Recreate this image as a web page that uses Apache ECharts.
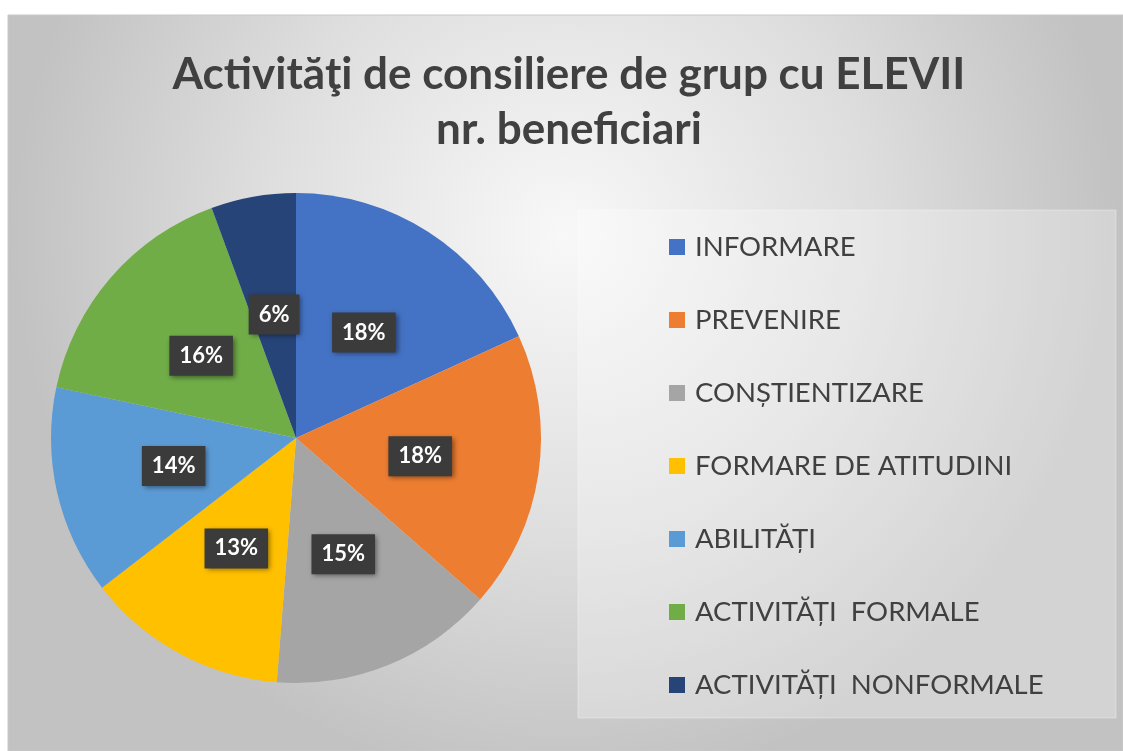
<!DOCTYPE html>
<html>
<head>
<meta charset="utf-8">
<script src="https://cdn.jsdelivr.net/npm/echarts@6/dist/echarts.min.js"></script>
<style>
html,body{margin:0;padding:0;background:#fff;}
#c{width:1123px;height:751px;}
</style>
</head>
<body>
<div id="c"></div>
<script>
const titleLines = ['Activităţi de consiliere de grup cu ELEVII', 'nr. beneficiari'];
const categories = ['INFORMARE', 'PREVENIRE', 'CONȘTIENTIZARE', 'FORMARE DE ATITUDINI', 'ABILITĂȚI', 'ACTIVITĂȚI  FORMALE', 'ACTIVITĂȚI  NONFORMALE'];
const values = [182, 183, 148, 133, 138, 161, 56];
const colors = ['#4472C4', '#ED7D31', '#A5A5A5', '#FFC000', '#5B9BD5', '#70AD47', '#264478'];

const chart = echarts.init(document.getElementById('c'), null, {renderer: 'canvas'});
const W = 1123, H = 751;

const option = {
  animation: false,
  color: colors,
  graphic: [
    {
      type: 'rect', z: -100, silent: true,
      shape: {x: 8, y: 15, width: W - 8, height: H - 15},
      style: {
        fill: {
          type: 'radial', x: 0.5, y: 0.3, r: 0.75,
          colorStops: [
            {offset: 0, color: '#f8f8f8'},
            {offset: 0.55, color: '#dedede'},
            {offset: 1, color: '#c2c2c2'}
          ]
        },
        stroke: '#c8c8c8', lineWidth: 1
      }
    },
    {
      type: 'rect', z: -99, silent: true,
      shape: {x: 578, y: 210, width: 538, height: 508},
      style: {fill: 'rgba(255,255,255,0.28)', stroke: 'rgba(255,255,255,0.35)', lineWidth: 1}
    },
    {
      type: 'text', z: 10, silent: true,
      x: 569, y: 75,
      style: {text: titleLines[0], fill: '#404040', font: 'bold 44px Lato', textAlign: 'center', textVerticalAlign: 'middle'}
    },
    {
      type: 'text', z: 10, silent: true,
      x: 569, y: 130,
      style: {text: titleLines[1], fill: '#404040', font: 'bold 44px Lato', textAlign: 'center', textVerticalAlign: 'middle'}
    }
  ],
  legend: {
    orient: 'vertical',
    left: 669,
    top: 232,
    padding: 0,
    itemWidth: 16,
    itemHeight: 16,
    itemGap: 43,
    icon: 'rect',
    data: categories,
    textStyle: {
      fontFamily: 'Lato',
      fontSize: 27.5,
      lineHeight: 30,
      color: '#404040',
      padding: [0, 0, 0, 5]
    }
  },
  series: [{
    type: 'pie',
    center: [296, 438],
    radius: [0, 245],
    startAngle: 90,
    clockwise: true,
    data: categories.map((n, i) => ({name: n, value: values[i]})),
    itemStyle: {borderWidth: 0},
    label: {
      show: true,
      position: 'inside',
      formatter: p => Math.round(p.percent) + '%',
      color: '#fff',
      fontFamily: 'Lato',
      fontWeight: 'bold',
      fontSize: 22,
      lineHeight: 22,
      backgroundColor: '#3b3b3b',
      padding: [9, 10, 9, 10],
      shadowColor: 'rgba(0,0,0,0.45)',
      shadowBlur: 5,
      shadowOffsetX: 2,
      shadowOffsetY: 2
    },
    labelLine: {show: false},
    emphasis: {disabled: true}
  }]
};
chart.setOption(option);
</script>
</body>
</html>
